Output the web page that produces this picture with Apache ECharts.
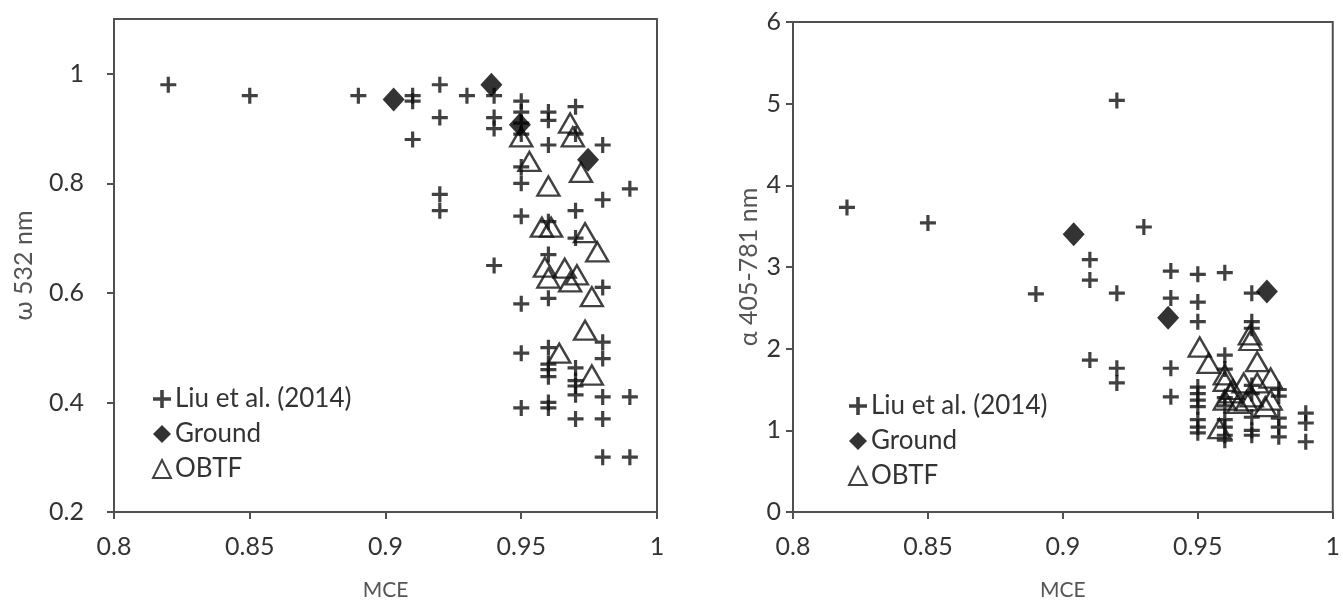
<!DOCTYPE html>
<html>
<head>
<meta charset="utf-8">
<script src="https://cdn.jsdelivr.net/npm/echarts@6/dist/echarts.min.js"></script>
<style>
html,body{margin:0;padding:0;background:#fff;}
#chart{width:1343px;height:606px;}
</style>
</head>
<body>
<div id="chart"></div>
<script>
// ---- Left panel: single scattering albedo at 532 nm vs MCE ----
const leftLiu = [
  [0.82,0.98],[0.85,0.96],[0.89,0.96],
  [0.91,0.96],[0.91,0.95],[0.91,0.88],
  [0.92,0.98],[0.92,0.92],[0.92,0.78],[0.92,0.75],
  [0.93,0.96],
  [0.94,0.96],[0.94,0.92],[0.94,0.90],[0.94,0.65],
  [0.95,0.95],[0.95,0.93],[0.95,0.91],[0.95,0.89],[0.95,0.83],[0.95,0.80],[0.95,0.74],[0.95,0.58],[0.95,0.49],[0.95,0.39],
  [0.96,0.93],[0.96,0.915],[0.96,0.87],[0.96,0.73],[0.96,0.67],[0.96,0.59],[0.96,0.50],[0.96,0.47],[0.96,0.46],[0.96,0.447],[0.96,0.40],[0.96,0.39],
  [0.97,0.94],[0.97,0.89],[0.97,0.75],[0.97,0.70],[0.97,0.463],[0.97,0.44],[0.97,0.43],[0.97,0.414],[0.97,0.37],
  [0.98,0.87],[0.98,0.77],[0.98,0.61],[0.98,0.51],[0.98,0.48],[0.98,0.41],[0.98,0.37],[0.98,0.30],
  [0.99,0.79],[0.99,0.41],[0.99,0.30]
];
const leftGround = [[0.903,0.953],[0.939,0.98],[0.9495,0.907],[0.9746,0.843]];
const leftOBTF = [
  [0.95,0.885],[0.968,0.91],[0.969,0.885],[0.953,0.84],[0.972,0.82],[0.96,0.795],
  [0.9576,0.72],[0.961,0.72],[0.9735,0.71],[0.978,0.675],
  [0.9587,0.647],[0.96,0.627],[0.966,0.645],[0.9705,0.633],[0.968,0.62],
  [0.976,0.593],[0.9735,0.532],[0.964,0.49],[0.976,0.45]
];

// ---- Right panel: Angstrom exponent 405-781 nm vs MCE ----
const rightLiu = [
  [0.82,3.73],[0.85,3.54],[0.89,2.67],
  [0.91,3.09],[0.91,2.84],[0.91,1.86],
  [0.92,5.04],[0.92,2.68],[0.92,1.76],[0.92,1.58],
  [0.93,3.49],
  [0.94,2.95],[0.94,2.62],[0.94,1.76],[0.94,1.41],
  [0.95,2.91],[0.95,2.57],[0.95,2.33],[0.95,1.53],[0.95,1.45],[0.95,1.37],[0.95,1.29],[0.95,1.13],[0.95,1.04],[0.95,0.97],
  [0.96,2.93],[0.96,1.92],[0.96,1.75],[0.96,1.40],[0.96,1.30],[0.96,1.13],[0.96,1.04],[0.96,0.94],[0.96,0.88],
  [0.97,2.68],[0.97,2.33],[0.97,2.25],[0.97,1.55],[0.97,1.45],[0.97,1.16],[0.97,1.00],[0.97,0.94],
  [0.98,1.50],[0.98,1.42],[0.98,1.15],[0.98,1.04],[0.98,0.92],
  [0.99,1.21],[0.99,1.09],[0.99,0.86]
];
const rightGround = [[0.904,3.40],[0.939,2.38],[0.9756,2.70]];
const rightOBTF = [
  [0.9507,2.02],[0.954,1.82],[0.9693,2.17],[0.9695,2.10],[0.972,1.84],
  [0.96,1.68],[0.96,1.60],[0.962,1.46],[0.96,1.37],[0.965,1.33],
  [0.967,1.58],[0.972,1.58],[0.97,1.41],[0.977,1.64],[0.977,1.37],
  [0.975,1.29],[0.958,1.02],[0.963,1.50],[0.968,1.36]
];

const seriesNames = ['Liu et al. (2014)','Ground','OBTF'];
const xTitle = 'MCE';
const leftYTitle = 'ω 532 nm';
const rightYTitle = 'α 405-781 nm';

const FONT = 'Lato, "Open Sans", sans-serif';
const AX = '#505050';
const TXT = '#333';
const PLUS = 'path://M5.6,0H8.4V5.6H14V8.4H8.4V14H5.6V8.4H0V5.6H5.6Z';

function fmt(v){ return String(+(+v).toFixed(2)); }

function xAxis(gi){
  return {
    type:'value', gridIndex:gi, min:0.8, max:1, interval:0.05,
    name:xTitle, nameLocation:'middle', nameGap:68,
    nameTextStyle:{fontFamily:FONT,fontSize:21,color:'#555'},
    axisLine:{show:true,onZero:false,lineStyle:{color:AX,width:2}},
    axisTick:{show:true,length:7,inside:false,lineStyle:{color:AX,width:2}},
    axisLabel:{formatter:fmt,fontFamily:FONT,fontSize:25,color:TXT,margin:22},
    splitLine:{show:false}
  };
}
function yAxis(gi,min,max,interval,title,gap,margin,hideMax){
  return {
    type:'value', gridIndex:gi, min:min, max:max, interval:interval,
    name:title, nameLocation:'middle', nameGap:gap, nameRotate:90,
    nameTextStyle:{fontFamily:FONT,fontSize:25,color:'#555'},
    axisLine:{show:true,onZero:false,lineStyle:{color:AX,width:2}},
    axisTick:{show:true,length:7,inside:false,lineStyle:{color:AX,width:2}},
    axisLabel:{formatter:fmt,fontFamily:FONT,fontSize:25,color:TXT,margin:margin,showMaxLabel:!hideMax},
    splitLine:{show:false}
  };
}

function mk(name,data,gi){
  const base = {name:name,type:'scatter',xAxisIndex:gi,yAxisIndex:gi,data:data,z:2};
  if(name===seriesNames[0]){
    base.symbol = PLUS; base.symbolSize = 16;
    base.itemStyle = {color:'#111'};
  } else if(name===seriesNames[1]){
    base.symbol = 'diamond'; base.symbolSize = [22,24];
    base.itemStyle = {color:'#000'};
    base.z = 3;
  } else {
    base.symbol = 'triangle'; base.symbolSize = [22,19];
    base.itemStyle = {color:'rgba(0,0,0,0)',borderColor:'#111',borderWidth:2.4};
  }
  return base;
}

function legend(left,top){
  return {
    left:left, top:top, orient:'vertical', itemGap:9, itemWidth:18, itemHeight:18,
    data:[
      {name:seriesNames[0],icon:PLUS,itemStyle:{color:'#111'}},
      {name:seriesNames[1],icon:'diamond',itemStyle:{color:'#000'}},
      {name:seriesNames[2],icon:'triangle',itemStyle:{color:'#fff',borderColor:'#111',borderWidth:2}}
    ],
    textStyle:{fontFamily:FONT,fontSize:26,color:TXT,padding:[0,0,0,-1]},
    selectedMode:false
  };
}

const chart = echarts.init(document.getElementById('chart'),null,{renderer:'canvas'});
chart.setOption({
  animation:false,
  backgroundColor:'#fff',
  grid:[
    {left:114, right:1343-657, top:19, bottom:606-512, show:true, borderColor:AX, borderWidth:2, backgroundColor:'#fff'},
    {left:793, right:1343-1333, top:22, bottom:606-512, show:true, borderColor:AX, borderWidth:2, backgroundColor:'#fff'}
  ],
  xAxis:[xAxis(0),xAxis(1)],
  yAxis:[yAxis(0,0.2,1.1,0.2,leftYTitle,78,30,true),yAxis(1,0,6,1,rightYTitle,32,12,false)],
  legend:[legend(147,381),legend(843,388)],
  series:[
    mk(seriesNames[0],leftLiu,0),mk(seriesNames[1],leftGround,0),mk(seriesNames[2],leftOBTF,0),
    mk(seriesNames[0],rightLiu,1),mk(seriesNames[1],rightGround,1),mk(seriesNames[2],rightOBTF,1)
  ]
});
</script>
</body>
</html>
